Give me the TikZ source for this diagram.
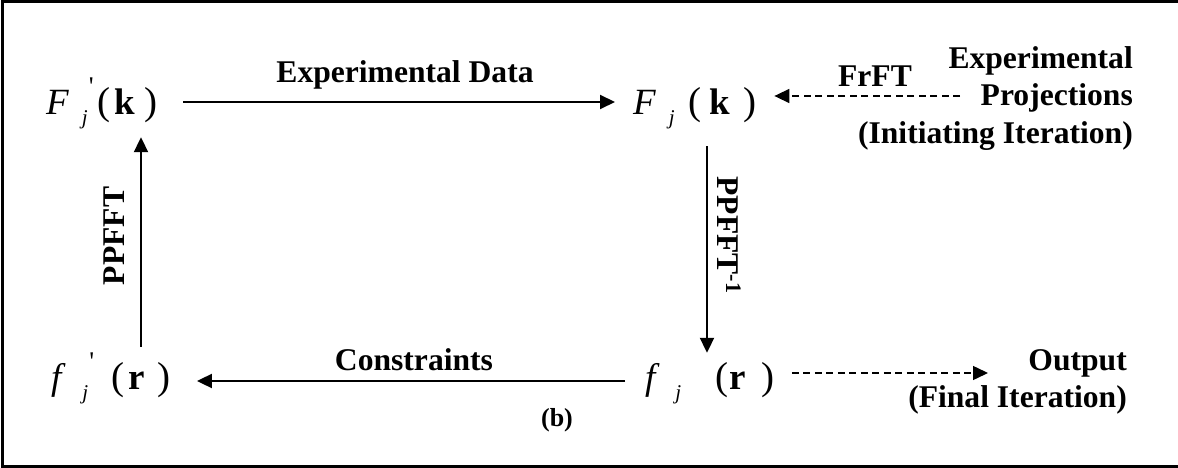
\documentclass[tikz,border=0pt]{standalone}
\usepackage{fontspec}
\setmainfont{Liberation Serif}
\usetikzlibrary{arrows.meta}
\newcommand\mIt[1]{{\fontsize{37}{40}\selectfont\itshape #1}}
\newcommand\mRm[1]{{\fontsize{39}{40}\selectfont #1}}
\newcommand\mBf[1]{{\fontsize{37}{40}\selectfont\bfseries #1}}
\newcommand\mSub{\raisebox{-10pt}{\fontsize{21}{21}\selectfont\itshape j}}
\newcommand\mPrime{\raisebox{19pt}{\fontsize{27}{27}\selectfont\addfontfeatures{Ligatures=TeXOff}'}}
\tikzset{
  fml/.style={inner sep=0pt, anchor=base west, text height=26pt, text depth=0pt},
  fmlb/.style={inner sep=0pt, anchor=base west, text height=16pt, text depth=0pt},
  lbl/.style={font=\fontsize{31.6}{37}\selectfont\bfseries, inner sep=0pt},
  arr/.style={line width=2pt, -{Triangle[length=15pt,width=14pt]}},
  darr/.style={line width=1.5pt, dash pattern=on 7pt off 4.5pt, -{Triangle[length=15pt,width=14pt]}},
}
\begin{document}
\begin{tikzpicture}[x=1pt,y=-1pt]
\useasboundingbox (0,0) rectangle (1178,468);
\draw[line width=2.5pt] (1180,1.5) -- (2.5,1.5) -- (2.5,466.5) -- (1180,466.5);

% formulas
\node[fml] (Fp) at (46,115) {\mIt{F}\hspace{13pt}\rlap{\mSub}\hspace{7pt}\mPrime\hspace{4pt}\mRm{(}\hspace{4pt}\mBf{k}\hspace{9pt}\mRm{)}};
\node[fml] (F) at (633,115) {\mIt{F}\hspace{13pt}\mSub\hspace{14pt}\mRm{(}\hspace{8pt}\mBf{k}\hspace{13pt}\mRm{)}};
\node[fmlb] (fp) at (51,389) {\mIt{f}\hspace{21pt}\rlap{\mSub}\hspace{7pt}\mPrime\hspace{17pt}\mRm{(}\hspace{4pt}\mBf{r}\hspace{13pt}\mRm{)}};
\node[fmlb] (f) at (645,389) {\mIt{f}\hspace{20pt}\mSub\hspace{34pt}\mRm{(}\hspace{1pt}\mBf{r}\hspace{16pt}\mRm{)}};

% labels
\node[lbl, anchor=base] (lexp) at (405,83) {Experimental Data};
\node[lbl, anchor=base] (lfrft) at (875,87) {FrFT};
\node[lbl, anchor=base east, align=right] (lproj) at (1133,143) {Experimental\\Projections\\(Initiating Iteration)};
\node[lbl, anchor=base east, align=right] (lout) at (1127,407) {Output\\(Final Iteration)};
\node[lbl, anchor=base] (lcon) at (414,370) {Constraints};
\node[font=\fontsize{26}{30}\selectfont\bfseries, inner sep=0pt, anchor=base] (lb) at (557,426) {(b)};
\node[lbl, rotate=-90] (lppi) at (729,235) {PPFFT\textsuperscript{-1}};
\node[lbl, rotate=90] (lpp) at (114,236) {PPFFT};

% helper coordinates
\coordinate (xr) at (707,0);
\coordinate (xl) at (141,0);
\coordinate (dstart) at (960,96);
\coordinate (dend) at (988,373);

% connectors
\draw[arr, shorten <=26pt, shorten >=18pt] (Fp.east) -- (F.west);
\draw[arr, shorten <=31pt, shorten >=20pt] (F.south -| xr) -- (f.north -| xr);
\draw[arr, shorten <=20pt, shorten >=26pt] (f.west) -- (fp.east);
\draw[arr, shorten <=26pt, shorten >=22pt] (fp.north -| xl) -- (Fp.south -| xl);
\draw[darr, shorten >=18pt] (dstart) -- (dstart -| F.east);
\draw[darr, shorten <=17pt] (dend -| f.east) -- (dend);
\end{tikzpicture}
\end{document}
